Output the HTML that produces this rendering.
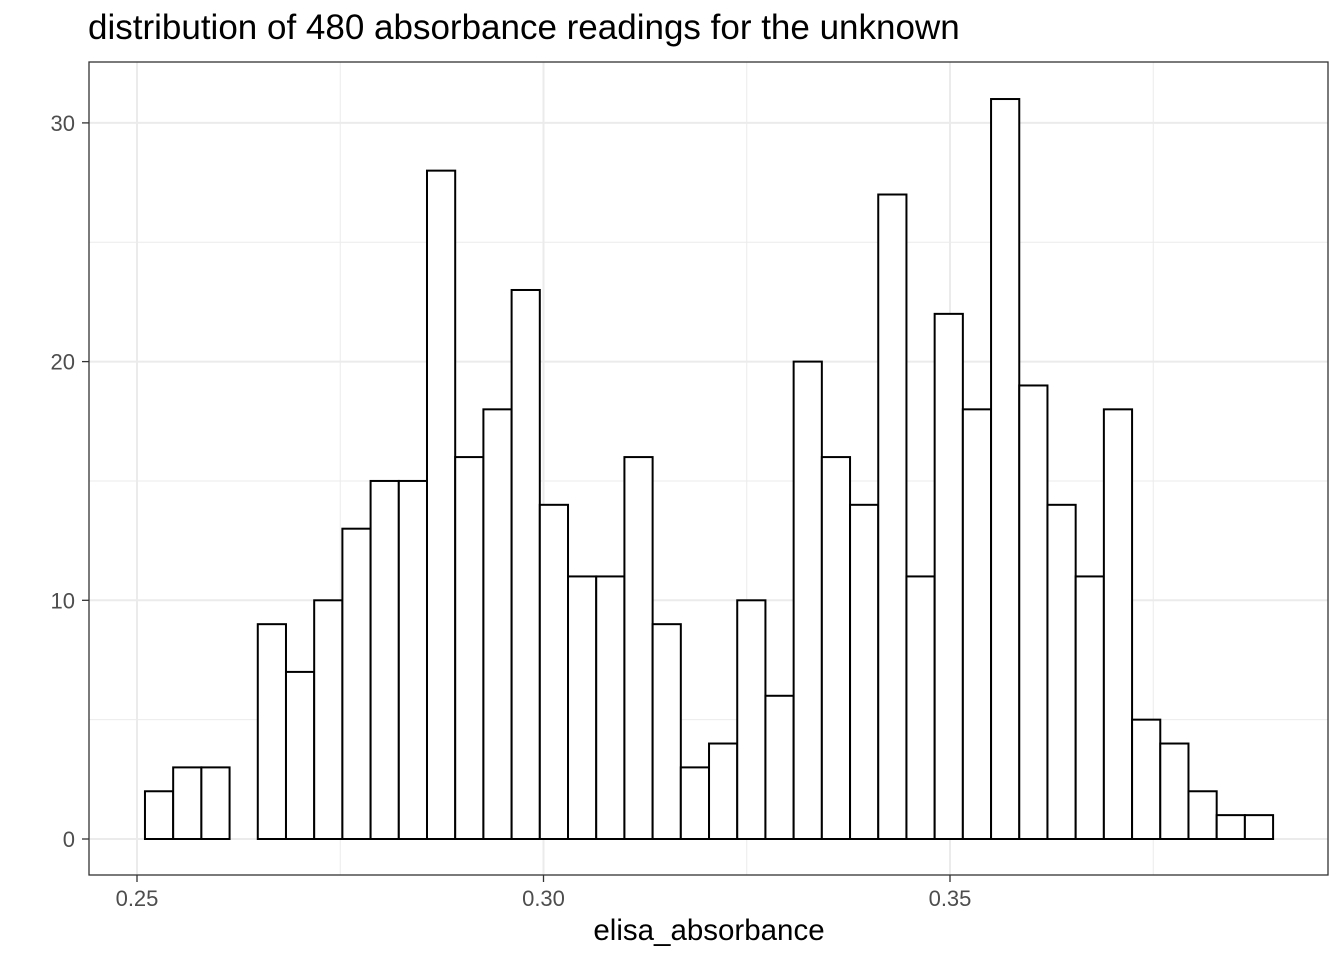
<!DOCTYPE html>
<html><head><meta charset="utf-8"><style>
html,body{margin:0;padding:0;background:#fff;}
svg{display:block;font-family:"Liberation Sans",Arial,sans-serif;}
</style></head><body>
<svg id="chart" width="1344" height="960" viewBox="0 0 1344 960">
<rect x="0" y="0" width="1344" height="960" fill="#fff"/>
<text x="88" y="39" font-size="35" fill="#000">distribution of 480 absorbance readings for the unknown</text>
<g id="grid"></g>
<g id="bars"></g>
<rect x="89" y="62" width="1239" height="813" fill="none" stroke="#333" stroke-width="1.3"/>
<g id="axes"></g>
<text x="709" y="940" font-size="29.5" text-anchor="middle" fill="#000">elisa_absorbance</text>
</svg>
<script>
const counts = [2,3,3,0,9,7,10,13,15,15,28,16,18,23,14,11,11,16,9,3,4,10,6,20,16,14,27,11,22,18,31,19,14,11,18,5,4,2,1,1];
const binStart = 0.25098;
const binWidth = 0.003469;
const xTicks = [0.25, 0.30, 0.35];
const xTickLabels = ["0.25", "0.30", "0.35"];
const xMinor = [0.275, 0.325, 0.375];
const yTicks = [0, 10, 20, 30];
const yTickLabels = ["0", "10", "20", "30"];
const yMinor = [5, 15, 25];

const NS = "http://www.w3.org/2000/svg";
const PL = 89, PR = 1328, PT = 62, PB = 875;
const X = v => 137 + (v - 0.25) * 8130;
const Y = v => 839 - v * 23.87;
function mk(tag, attrs, parent) {
  const e = document.createElementNS(NS, tag);
  for (const k in attrs) e.setAttribute(k, attrs[k]);
  parent.appendChild(e);
  return e;
}
const grid = document.getElementById('grid');
const axes = document.getElementById('axes');
const bars = document.getElementById('bars');

xMinor.forEach(v => {
  const l = mk('line', {x1: X(v), x2: X(v), y1: PT, y2: PB, stroke: '#ebebeb', 'stroke-width': 1}, grid);
  
  
});
yMinor.forEach(v => {
  const l = mk('line', {x1: PL, x2: PR, y1: Y(v), y2: Y(v), stroke: '#ebebeb', 'stroke-width': 1}, grid);
  
  
});
xTicks.forEach((v, i) => {
  const l = mk('line', {x1: X(v), x2: X(v), y1: PT, y2: PB, stroke: '#ebebeb', 'stroke-width': 2}, grid);
  
  
  const t = mk('line', {x1: X(v), x2: X(v), y1: PB, y2: PB + 7, stroke: '#333', 'stroke-width': 1.3}, axes);
  
  
  const tx = mk('text', {x: X(v), y: 906, 'font-size': 22, 'text-anchor': 'middle', fill: '#4d4d4d'}, axes);
  tx.textContent = xTickLabels[i];
  
  
});
yTicks.forEach((v, i) => {
  const l = mk('line', {x1: PL, x2: PR, y1: Y(v), y2: Y(v), stroke: '#ebebeb', 'stroke-width': 2}, grid);
  
  
  const t = mk('line', {x1: PL - 7, x2: PL, y1: Y(v), y2: Y(v), stroke: '#333', 'stroke-width': 1.3}, axes);
  
  
  const tx = mk('text', {x: 75, y: Y(v) + 8, 'font-size': 22, 'text-anchor': 'end', fill: '#4d4d4d'}, axes);
  tx.textContent = yTickLabels[i];
  
  
});
counts.forEach((c, i) => {
  const x0 = X(binStart + i * binWidth), x1 = X(binStart + (i + 1) * binWidth);
  const r = mk('rect', {x: x0, y: Y(c), width: x1 - x0, height: Y(0) - Y(c), fill: '#fff', stroke: '#000', 'stroke-width': 2}, bars);
  
  
});
</script>
</body></html>
